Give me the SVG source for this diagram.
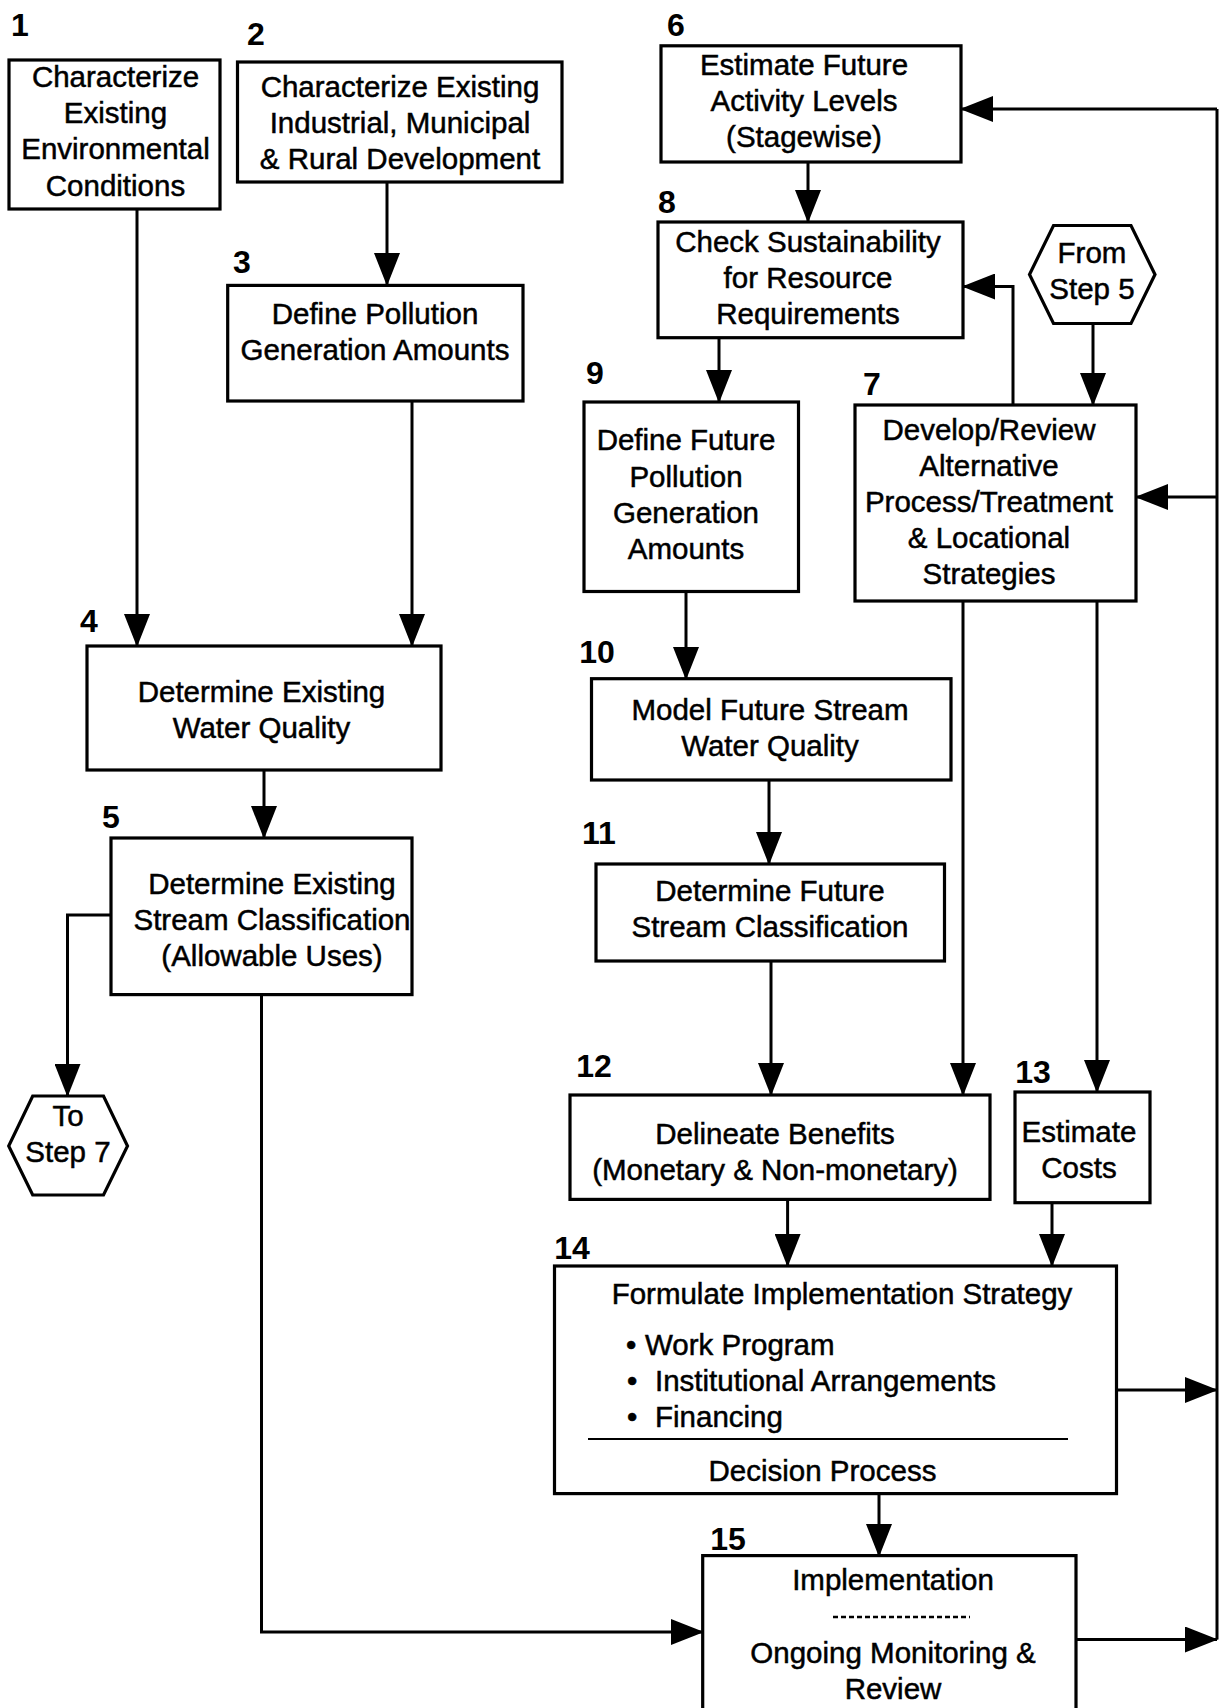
<svg xmlns="http://www.w3.org/2000/svg" width="1231" height="1708" viewBox="0 0 1231 1708">
<style>
.box{fill:#fff;stroke:#000;stroke-width:3.2}
.t{font-family:"Liberation Sans",Arial,sans-serif;font-size:29.5px;fill:#000;stroke:#000;stroke-width:0.5;text-anchor:middle}
.ts{font-family:"Liberation Sans",Arial,sans-serif;font-size:29.5px;fill:#000;stroke:#000;stroke-width:0.5}
.n{font-family:"Liberation Sans",Arial,sans-serif;font-size:32px;font-weight:bold;fill:#000;text-anchor:middle}
.c{fill:none;stroke:#000;stroke-width:3}
.ca{fill:none;stroke:#000;stroke-width:3;marker-end:url(#ah)}
</style>
<defs>
<marker id="ah" markerUnits="userSpaceOnUse" markerWidth="33" markerHeight="26" refX="32" refY="13" orient="auto">
<path d="M0,0 L33,13 L0,26 z" fill="#000"/>
</marker>
</defs>
<rect width="1231" height="1708" fill="#fff"/>

<g id="connectors">
<path class="ca" d="M387,182 V285"/>
<path class="ca" d="M137,209 V646"/>
<path class="ca" d="M412,401 V646"/>
<path class="ca" d="M264,770 V838"/>
<path class="ca" d="M111,915 H67.5 V1096"/>
<path class="ca" d="M261.5,995 V1632 H703"/>
<path class="ca" d="M808,162 V222"/>
<path class="ca" d="M1093,323.5 V405"/>
<path class="ca" d="M719,338 V402"/>
<path class="ca" d="M1013,405 V286.5 H963"/>
<path class="c" d="M1217,109 V1639.5"/>
<path class="ca" d="M1217,109 H961"/>
<path class="ca" d="M1217,497 H1136"/>
<path class="ca" d="M686,591.5 V679"/>
<path class="ca" d="M769,780 V864"/>
<path class="ca" d="M771,961 V1095"/>
<path class="ca" d="M963,601 V1095"/>
<path class="ca" d="M1097,601 V1092"/>
<path class="ca" d="M787.6,1199.5 V1266"/>
<path class="ca" d="M1052,1203 V1266"/>
<path class="ca" d="M1117,1390 H1217"/>
<path class="ca" d="M879,1494 V1556"/>
<path class="ca" d="M1076,1639.5 H1217"/>
</g>

<g id="n1">
<text class="n" x="20" y="36">1</text>
<rect class="box" x="9" y="60" width="211" height="149"/>
<text class="t" x="115.5" y="87">Characterize</text>
<text class="t" x="115.5" y="123">Existing</text>
<text class="t" x="115.5" y="159">Environmental</text>
<text class="t" x="115.5" y="196">Conditions</text>
</g>

<g id="n2">
<text class="n" x="256" y="45">2</text>
<rect class="box" x="237.5" y="62" width="324.5" height="120"/>
<text class="t" x="400" y="97">Characterize Existing</text>
<text class="t" x="400" y="133">Industrial, Municipal</text>
<text class="t" x="400" y="169">&amp; Rural Development</text>
</g>

<g id="n3">
<text class="n" x="242" y="273">3</text>
<rect class="box" x="227.7" y="285.4" width="295.3" height="115.6"/>
<text class="t" x="375" y="324">Define Pollution</text>
<text class="t" x="375" y="360">Generation Amounts</text>
</g>

<g id="n4">
<text class="n" x="89" y="632">4</text>
<rect class="box" x="87" y="646" width="354" height="124"/>
<text class="t" x="261.5" y="702">Determine Existing</text>
<text class="t" x="261.5" y="738">Water Quality</text>
</g>

<g id="n5">
<text class="n" x="111" y="828">5</text>
<rect class="box" x="111" y="838" width="301" height="156.6"/>
<text class="t" x="272" y="894">Determine Existing</text>
<text class="t" x="272" y="930">Stream Classification</text>
<text class="t" x="272" y="966">(Allowable Uses)</text>
</g>

<g id="toStep7">
<polygon class="box" points="32.7,1096 103.5,1096 127.5,1146 103.5,1195 32.7,1195 8.7,1146"/>
<text class="t" x="68" y="1126">To</text>
<text class="t" x="68" y="1162">Step 7</text>
</g>

<g id="n6">
<text class="n" x="676" y="36">6</text>
<rect class="box" x="661" y="45.8" width="300" height="116.2"/>
<text class="t" x="804" y="75">Estimate Future</text>
<text class="t" x="804" y="111">Activity Levels</text>
<text class="t" x="804" y="147">(Stagewise)</text>
</g>

<g id="n8">
<text class="n" x="667" y="213">8</text>
<rect class="box" x="658" y="222" width="305" height="115.7"/>
<text class="t" x="808" y="252">Check Sustainability</text>
<text class="t" x="808" y="288">for Resource</text>
<text class="t" x="808" y="324">Requirements</text>
</g>

<g id="fromStep5">
<polygon class="box" points="1053.5,225.5 1131,225.5 1155,274.5 1131,323.5 1053.5,323.5 1029.5,274.5"/>
<text class="t" x="1092" y="263">From</text>
<text class="t" x="1092" y="299">Step 5</text>
</g>

<g id="n9">
<text class="n" x="595" y="384">9</text>
<rect class="box" x="584" y="402" width="214.5" height="189.5"/>
<text class="t" x="686" y="450">Define Future</text>
<text class="t" x="686" y="487">Pollution</text>
<text class="t" x="686" y="523">Generation</text>
<text class="t" x="686" y="558.5">Amounts</text>
</g>

<g id="n7">
<text class="n" x="872" y="395">7</text>
<rect class="box" x="855" y="405" width="281" height="196"/>
<text class="t" x="989" y="440">Develop/Review</text>
<text class="t" x="989" y="476">Alternative</text>
<text class="t" x="989" y="512">Process/Treatment</text>
<text class="t" x="989" y="548">&amp; Locational</text>
<text class="t" x="989" y="584">Strategies</text>
</g>

<g id="n10">
<text class="n" x="597" y="663">10</text>
<rect class="box" x="591.5" y="678.7" width="359.5" height="101.3"/>
<text class="t" x="770" y="720">Model Future Stream</text>
<text class="t" x="770" y="756">Water Quality</text>
</g>

<g id="n11">
<text class="n" x="599" y="843.5">11</text>
<rect class="box" x="596" y="864" width="348.5" height="97"/>
<text class="t" x="770" y="900.5">Determine Future</text>
<text class="t" x="770" y="936.5">Stream Classification</text>
</g>

<g id="n12">
<text class="n" x="594" y="1077">12</text>
<rect class="box" x="570" y="1095" width="420" height="104.4"/>
<text class="t" x="775" y="1143.5">Delineate Benefits</text>
<text class="t" x="775" y="1179.5">(Monetary &amp; Non-monetary)</text>
</g>

<g id="n13">
<text class="n" x="1033" y="1082.5">13</text>
<rect class="box" x="1015" y="1092" width="135" height="110.7"/>
<text class="t" x="1079" y="1141.5">Estimate</text>
<text class="t" x="1079" y="1177.5">Costs</text>
</g>

<g id="n14">
<text class="n" x="572" y="1258.5">14</text>
<rect class="box" x="554.5" y="1266" width="562" height="227.6"/>
<text class="t" x="842" y="1303.5">Formulate Implementation Strategy</text>
<text class="ts" x="626" y="1355">•</text>
<text class="ts" x="645" y="1355">Work Program</text>
<text class="ts" x="627" y="1391">•</text>
<text class="ts" x="655" y="1391">Institutional Arrangements</text>
<text class="ts" x="627" y="1427">•</text>
<text class="ts" x="655" y="1427">Financing</text>
<line x1="588" y1="1439" x2="1068" y2="1439" stroke="#000" stroke-width="2.2"/>
<text class="t" x="822.5" y="1481">Decision Process</text>
</g>

<g id="n15">
<text class="n" x="728" y="1549.5">15</text>
<rect class="box" x="702.7" y="1555.6" width="373.3" height="170"/>
<text class="t" x="893" y="1590">Implementation</text>
<line x1="833" y1="1617" x2="970" y2="1617" stroke="#000" stroke-width="2.5" stroke-dasharray="5,3"/>
<text class="t" x="893" y="1663">Ongoing Monitoring &amp;</text>
<text class="t" x="893" y="1699">Review</text>
</g>
</svg>
